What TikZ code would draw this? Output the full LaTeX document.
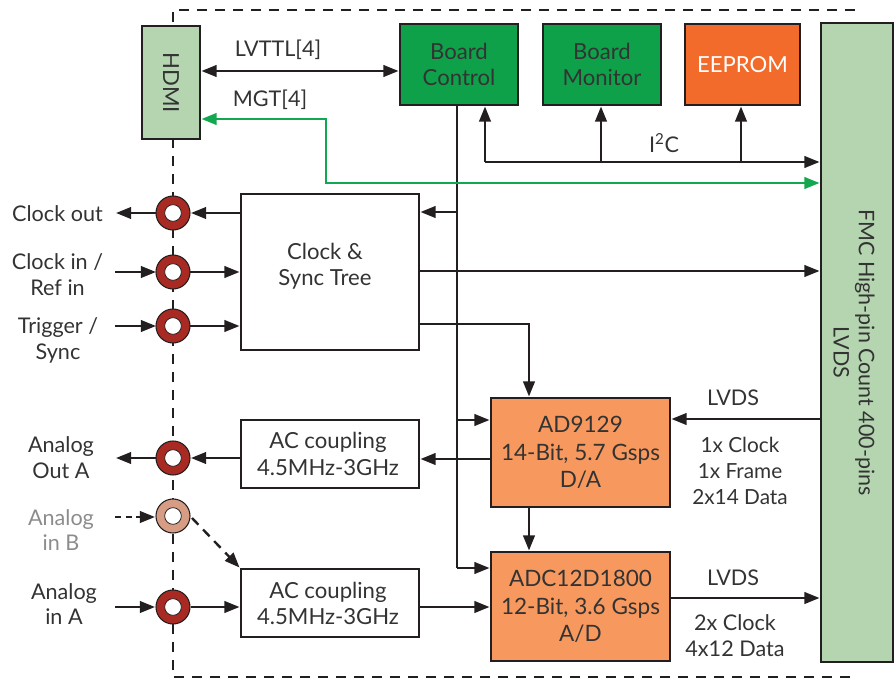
\documentclass[tikz,border=0pt]{standalone}
\usepackage{fontspec}
\setmainfont{Lato}
\usetikzlibrary{arrows.meta,calc}
\definecolor{ink}{HTML}{231F20}
\definecolor{txt}{HTML}{333333}
\definecolor{lgreen}{HTML}{B4D5B0}
\definecolor{dgreen}{HTML}{0FA14A}
\definecolor{eeorange}{HTML}{F26B2A}
\definecolor{salmon}{HTML}{F7995E}
\definecolor{conred}{HTML}{A82A22}
\definecolor{conpale}{HTML}{D69C84}
\definecolor{mgt}{HTML}{13A84F}
\tikzset{
  x=0.75pt,y=-0.75pt,
  >={Triangle[length=11.3pt,width=8.6pt]},
  box/.style={draw=ink,line width=2.2pt,fill=white,text=txt,inner sep=0pt,align=center,font=\fontsize{16.6}{19.6}\selectfont},
  lbl/.style={text=txt,inner sep=0pt,align=center,font=\fontsize{16.2}{19.4}\selectfont},
  wire/.style={draw=ink,line width=1.8pt},
  arr/.style={wire,->},
  border/.style={draw=ink,line width=2pt,dash pattern=on 7.5pt off 6pt},
  ring/.style={circle,draw=ink,line width=0.8pt,fill=conred,minimum size=25.5pt,inner sep=0pt},
  hole/.style={circle,draw=ink,line width=0.6pt,fill=white,minimum size=12.5pt,inner sep=0pt},
}
\newcommand{\rect}[6][]{\node[box,#1,minimum width=#4*0.75pt,minimum height=#5*0.75pt] (#2) at #3 {#6};}
\newcommand{\jack}[3][conred]{\node[ring,fill=#1] (#2) at #3 {};\node[hole] at (#2) {};}
\begin{document}
\begin{tikzpicture}
\useasboundingbox (0,0) rectangle (896,681);
% dashed enclosure
\coordinate (bTL) at (173,10);
\coordinate (bTR) at (855,10);
\coordinate (bBL) at (173,677);
\coordinate (bBR) at (855,677);
\draw[border] (bTR) -- (bTL) -- (bBL) -- (bBR);
% boxes
\rect[fill=lgreen]{hdmi}{(171,82.5)}{58}{113}{\rotatebox{-90}{HDMI}}
\rect[fill=dgreen]{bc}{(459,64.5)}{118}{81}{Board\\Control}
\rect[fill=dgreen]{bm}{(602,64.5)}{118}{81}{Board\\Monitor}
\rect[fill=eeorange,text=white]{ee}{(742.5,64.5)}{115}{81}{EEPROM}
\rect[fill=lgreen]{fmc}{(857,342.5)}{72}{639}{}
\node[lbl,rotate=-90,font=\fontsize{16.1}{19}\selectfont] (fmct) at (854,352.5) {FMC High-pin Count 400-pins\\LVDS};
\rect{clk}{(330,272)}{178}{156}{}
\node[box,draw=none,fill=none] (clkt) at (325,266) {Clock \&\\Sync Tree};
\rect{ac1}{(330,454)}{178}{68}{}
\node[box,draw=none,fill=none] (ac1t) at (328,454) {AC coupling\\4.5MHz-3GHz};
\rect{ac2}{(330,603)}{178}{68}{}
\node[box,draw=none,fill=none] (ac2t) at (328,603) {AC coupling\\4.5MHz-3GHz};
\rect[fill=salmon,font=\fontsize{16.9}{20.5}\selectfont]{dac}{(580.5,452.5)}{179}{109}{AD9129\\14-Bit, 5.7 Gsps\\D/A}
\rect[fill=salmon,font=\fontsize{16.9}{20.5}\selectfont]{adc}{(580.5,606.5)}{179}{109}{ADC12D1800\\12-Bit, 3.6 Gsps\\A/D}
% jacks
\jack{j1}{(173,213)}
\jack{j2}{(173,272)}
\jack{j3}{(173,326)}
\jack{j4}{(173,458)}
\jack[conpale]{j5}{(173,516)}
\jack{j6}{(173,607)}
% free ends
\coordinate (o1) at (116,213);
\coordinate (i2) at (115,272);
\coordinate (i3) at (115,326);
\coordinate (o4) at (116,458);
\coordinate (i5) at (115,517);
\coordinate (i6) at (115,607);
\coordinate (j5out) at (192,518);
% board-control bus
\coordinate (busT) at (457,105);
\coordinate (bus1) at (457,212);
\coordinate (bus2) at (457,420);
\coordinate (bus3) at (457,568);
\draw[wire] (busT) -- (bus3);
\draw[arr] (bus1) -- (bus1 -| clk.east);
\draw[arr] (bus2) -- (bus2 -| dac.west);
\draw[arr] (bus3) -- (bus3 -| adc.west);
% I2C bus
\coordinate (i2c) at (485,162);
\coordinate (i2b) at (601,162);
\coordinate (i2e) at (741,162);
\draw[arr] (i2c) -- (i2c |- bc.south);
\draw[arr] (i2b) -- (i2b |- bm.south);
\draw[arr] (i2e) -- (i2e |- ee.south);
\draw[arr] (i2c) -- (i2c -| fmc.west);
% HDMI links
\coordinate (lv) at (300,71);
\draw[wire,<->] (lv -| hdmi.east) -- (lv -| bc.west);
\coordinate (g1) at (326,119);
\coordinate (g2) at (326,183);
\draw[draw=mgt,line width=1.8pt,{Triangle[length=11.3pt,width=8.6pt,fill=mgt]}-{Triangle[length=11.3pt,width=8.6pt,fill=mgt]}] (g1 -| hdmi.east) -- (g1) -- (g2) -- (g2 -| fmc.west);
% jack wiring
\draw[arr] (156,213) -- (o1);
\draw[arr] (j1 -| clk.west) -- (191,213);
\draw[arr] (i2) -- (156,272);
\draw[arr] (190,272) -- (j2 -| clk.west);
\draw[arr] (i3) -- (156,326);
\draw[arr] (190,326) -- (j3 -| clk.west);
\draw[arr] (156,458) -- (o4);
\draw[arr] (j4 -| ac1.west) -- (191,458);
\draw[arr,dash pattern=on 4.5pt off 3.5pt] (i5) -- (155,517);
\draw[arr,dash pattern=on 7pt off 5pt] (j5out) -- (ac2.north west);
\draw[arr] (i6) -- (155,607);
\draw[arr] (191,607) -- (ac2.west |- j6);
% main signal paths
\coordinate (c1) at (419,271);
\draw[arr] (c1) -- (c1 -| fmc.west);
\coordinate (c2) at (419,324);
\coordinate (c3) at (529,324);
\draw[arr] (c2) -- (c3) -- (c3 |- dac.north);
\coordinate (d1) at (529,507);
\draw[arr] (d1) -- (d1 |- adc.north);
\coordinate (l1) at (700,419);
\draw[arr] (l1 -| fmc.west) -- (l1 -| dac.east);
\coordinate (l2) at (700,598);
\draw[arr] (l2 -| adc.east) -- (l2 -| fmc.west);
\coordinate (a1) at (450,459);
\draw[arr] (a1 -| dac.west) -- (a1 -| ac1.east);
\coordinate (a2) at (450,607);
\draw[arr] (a2 -| ac2.east) -- (a2 -| adc.west);
% labels
\node[lbl] (t1) at (278,50) {LVTTL[4]};
\node[lbl] (t2) at (270,100) {MGT[4]};
\node[lbl] (t3) at (664,143) {I\textsuperscript{2}C};
\node[lbl] (t4) at (57.5,214) {Clock out};
\node[lbl] (t5) at (57.5,275) {Clock in /\\Ref in};
\node[lbl] (t6) at (58,340.5) {Trigger /\\Sync};
\node[lbl] (t7) at (61,458) {Analog\\Out A};
\node[lbl,text=black!45] (t8) at (61,530) {Analog\\in B};
\node[lbl] (t9) at (64,604) {Analog\\in A};
\node[lbl] (t10) at (733,398) {LVDS};
\node[lbl,font=\fontsize{15.6}{19.2}\selectfont] (t11) at (740,471) {1x Clock\\1x Frame\\2x14 Data};
\node[lbl] (t12) at (733,578) {LVDS};
\node[lbl] (t13) at (735,636) {2x Clock\\4x12 Data};
\end{tikzpicture}
\end{document}
